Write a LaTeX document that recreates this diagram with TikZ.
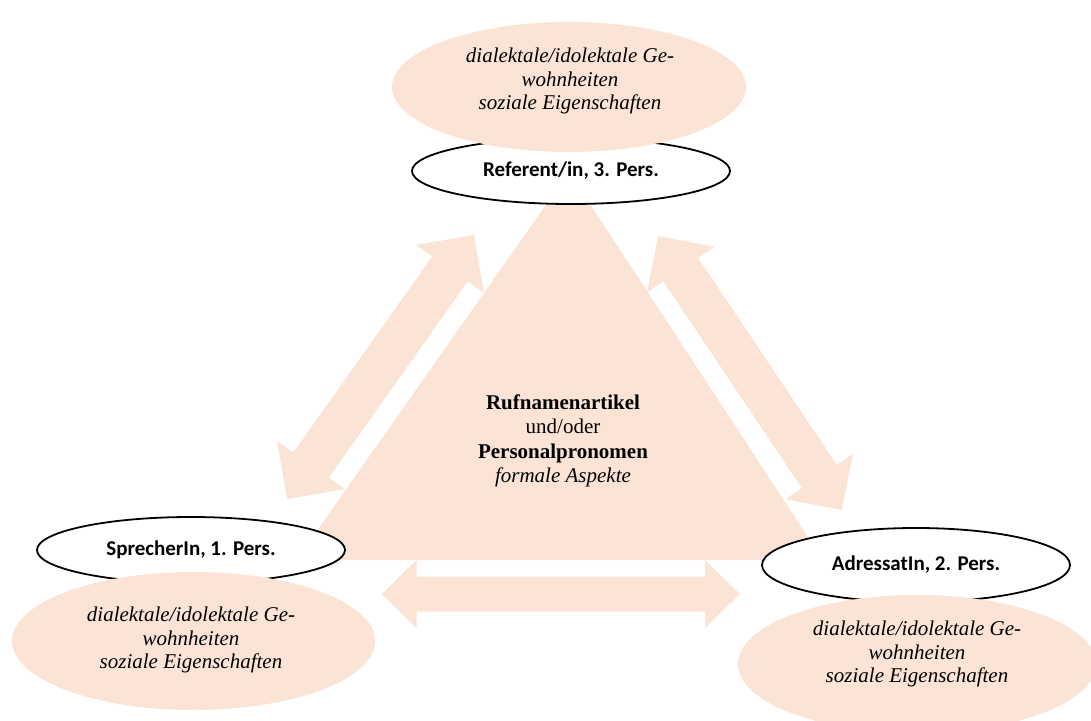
\documentclass[tikz,border=0pt]{standalone}
\usepackage{fontspec}
\setmainfont{Liberation Serif}
\newfontfamily\labelfont{Carlito}
\usetikzlibrary{calc,shapes.geometric}
\definecolor{peach}{HTML}{FBE4D5}

% double-headed block arrow between two tips:
% #1, #2 tips; #3 half shaft width; #4 half head width; #5 head length
\newcommand\dblblockarrow[5]{%
  \fill[peach] (#1)
    -- ($(#1)!#5!(#2)!#4!90:(#2)$)
    -- ($(#1)!#5!(#2)!#3!90:(#2)$)
    -- ($(#2)!#5!(#1)!#3!-90:(#1)$)
    -- ($(#2)!#5!(#1)!#4!-90:(#1)$)
    -- (#2)
    -- ($(#2)!#5!(#1)!#4!90:(#1)$)
    -- ($(#2)!#5!(#1)!#3!90:(#1)$)
    -- ($(#1)!#5!(#2)!#3!-90:(#2)$)
    -- ($(#1)!#5!(#2)!#4!-90:(#2)$)
    -- cycle;}

\begin{document}
\begin{tikzpicture}[x=1pt,y=-1pt,
  infooval/.style={ellipse, fill=peach, inner sep=0pt},
  roleoval/.style={ellipse, draw=black, line width=1.8pt, fill=white, inner sep=0pt,
    font=\labelfont\bfseries\fontsize{21}{25}\selectfont},
  infotext/.style={align=center, font=\fontsize{21}{23.5}\selectfont\itshape},
  coretext/.style={align=center, font=\fontsize{21}{24.5}\selectfont}]

\useasboundingbox (0,0) rectangle (1091,720);
\clip (0,0) rectangle (1091,720);

% central triangle
\coordinate (apex) at (569,172);
\coordinate (bl) at (296.5,560);
\coordinate (br) at (823,560);
\fill[peach] (apex) -- (bl) -- (br) -- cycle;

% block arrows between the three roles
\coordinate (la1) at (474,235);
\coordinate (la2) at (287,499);
\coordinate (ra1) at (658.3,236);
\coordinate (ra2) at (841.7,510);
\coordinate (ba1) at (381.7,594);
\coordinate (ba2) at (740,594);
\dblblockarrow{la1}{la2}{21.7pt}{41.5pt}{41.6pt}
\dblblockarrow{ra1}{ra2}{21pt}{40.7pt}{40.4pt}
\dblblockarrow{ba1}{ba2}{17.5pt}{34pt}{35pt}

% role ovals
\node[roleoval, minimum width=318pt, minimum height=66pt] (referent) at (571,171) {Referent/in, 3. Pers.};
\node[roleoval, minimum width=308pt, minimum height=66pt] (sprecher) at (191,550) {SprecherIn, 1. Pers.};
\node[roleoval, minimum width=308pt, minimum height=74pt] (adressat) at (916,565) {AdressatIn, 2. Pers.};

% attribute ovals
\node[infooval, minimum width=354pt, minimum height=130pt] (topinfo) at (569,87) {};
\node[infooval, minimum width=363pt, minimum height=138pt] (leftinfo) at (193.5,641) {};
\node[infooval, minimum width=358pt, minimum height=138pt] (rightinfo) at (917,664) {};

\node[infotext] (topinfotext) at (570,81) {dialektale/idolektale Ge-\\wohnheiten\\soziale Eigenschaften};
\node[infotext] (leftinfotext) at (191,640) {dialektale/idolektale Ge-\\wohnheiten\\soziale Eigenschaften};
\node[infotext] (rightinfotext) at (917,654) {dialektale/idolektale Ge-\\wohnheiten\\soziale Eigenschaften};

% centre label
\node[coretext] (core) at (563,441) {\textbf{Rufnamenartikel}\\und/oder\\\textbf{Personalpronomen}\\\textit{formale Aspekte}};
\end{tikzpicture}
\end{document}
